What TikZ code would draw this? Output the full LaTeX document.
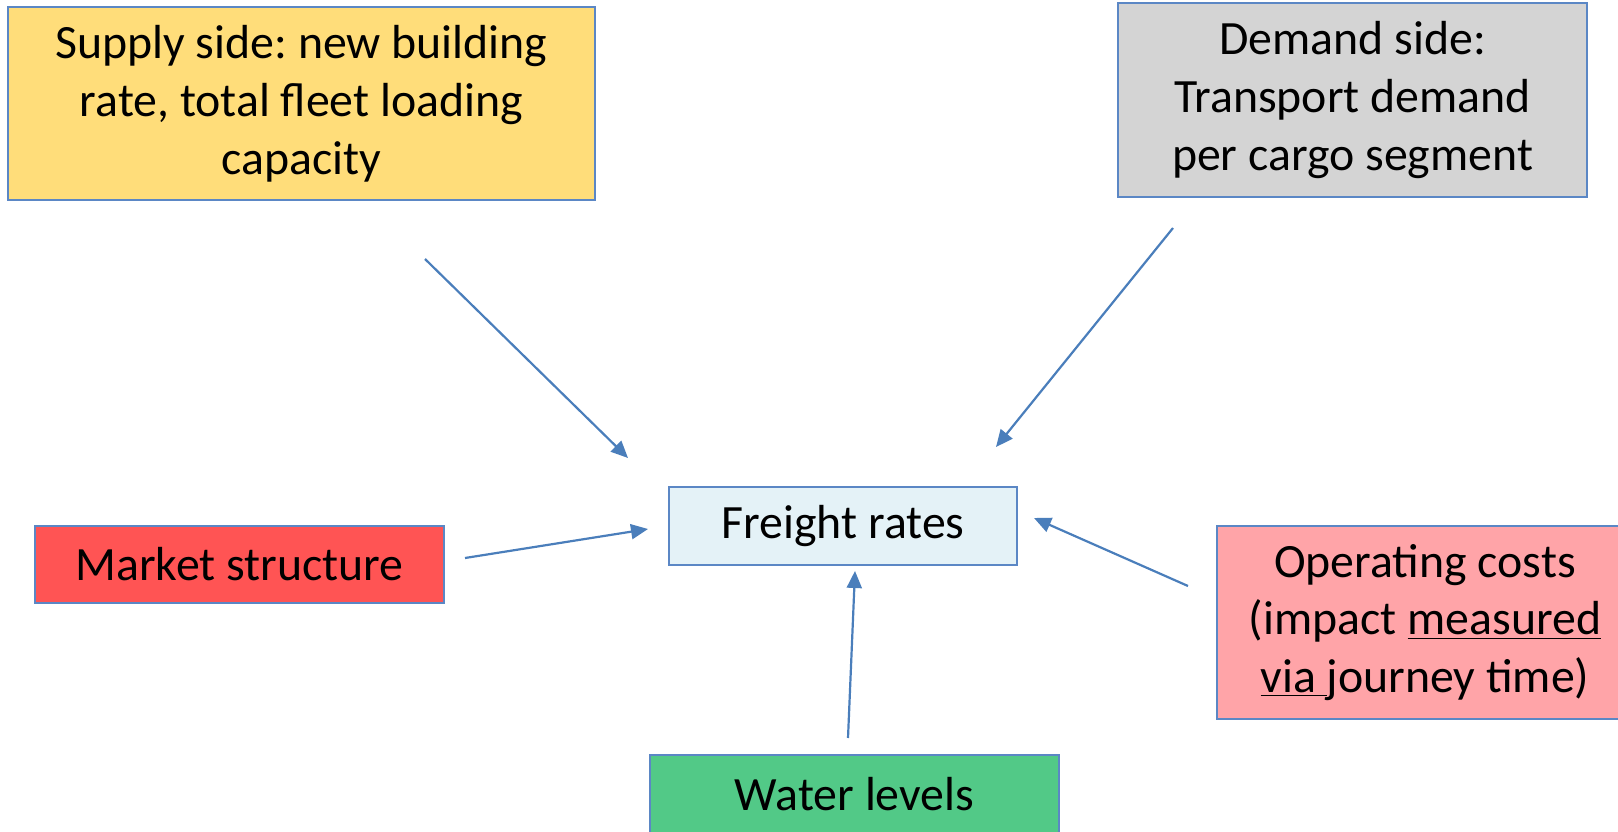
\documentclass[tikz,border=0pt]{standalone}
\usepackage{fontspec}
\setmainfont{Carlito}
\usetikzlibrary{arrows.meta}
\definecolor{edgeblue}{HTML}{5B87C5}
\definecolor{arrowblue}{HTML}{4A7EBB}
\definecolor{supplyfill}{HTML}{FFDD7A}
\definecolor{demandfill}{HTML}{D4D4D4}
\definecolor{freightfill}{HTML}{E4F2F7}
\definecolor{marketfill}{HTML}{FF5454}
\definecolor{opfill}{HTML}{FFA4A8}
\definecolor{waterfill}{HTML}{52C987}
\tikzset{
  factor/.style={draw=edgeblue, line width=1bp, inner sep=0pt, align=center,
    font=\frenchspacing\fontsize{23.9bp}{28.9bp}\selectfont},
  link/.style={draw=arrowblue, line width=1.1bp, -{Triangle[length=8.5bp,width=7.5bp]}}
}
\begin{document}
\begin{tikzpicture}[x=0.5bp,y=-0.5bp]
\useasboundingbox (0,0) rectangle (1618,831);
\node[factor, fill=supplyfill, minimum width=293.5bp, minimum height=96.5bp] (supply) at (301.5,103.5)
  {Supply side: new building\\rate, total fleet loading\\capacity};
\node[factor, fill=demandfill, minimum width=234.5bp, minimum height=97bp] (demand) at (1352.5,100)
  {Demand side:\\Transport demand\\per cargo segment};
\node[factor, fill=freightfill, minimum width=174bp, minimum height=39bp] (freight) at (843,526)
  {Freight rates};
\node[factor, fill=marketfill, minimum width=204.5bp, minimum height=38.5bp] (market) at (239.5,564.5)
  {Market structure};
\node[factor, fill=opfill, minimum width=208bp, minimum height=96.5bp] (oper) at (1425,622.5)
  {Operating costs\\(impact \underline{measured}\\\underline{via\ }journey time)};
\node[factor, fill=waterfill, minimum width=204.5bp, minimum height=44bp] (water) at (854.5,799)
  {\raisebox{5.5bp}{Water levels}};
\coordinate (s1) at (425,259);  \coordinate (s2) at (628,458);
\coordinate (d1) at (1173,228); \coordinate (d2) at (996,447);
\coordinate (m1) at (465,558);  \coordinate (m2) at (648,529);
\coordinate (o1) at (1188,586); \coordinate (o2) at (1034,518);
\coordinate (w1) at (848,738);  \coordinate (w2) at (855,571);
\draw[link] (s1) -- (s2);
\draw[link] (d1) -- (d2);
\draw[link] (m1) -- (m2);
\draw[link] (o1) -- (o2);
\draw[link] (w1) -- (w2);
\end{tikzpicture}
\end{document}
